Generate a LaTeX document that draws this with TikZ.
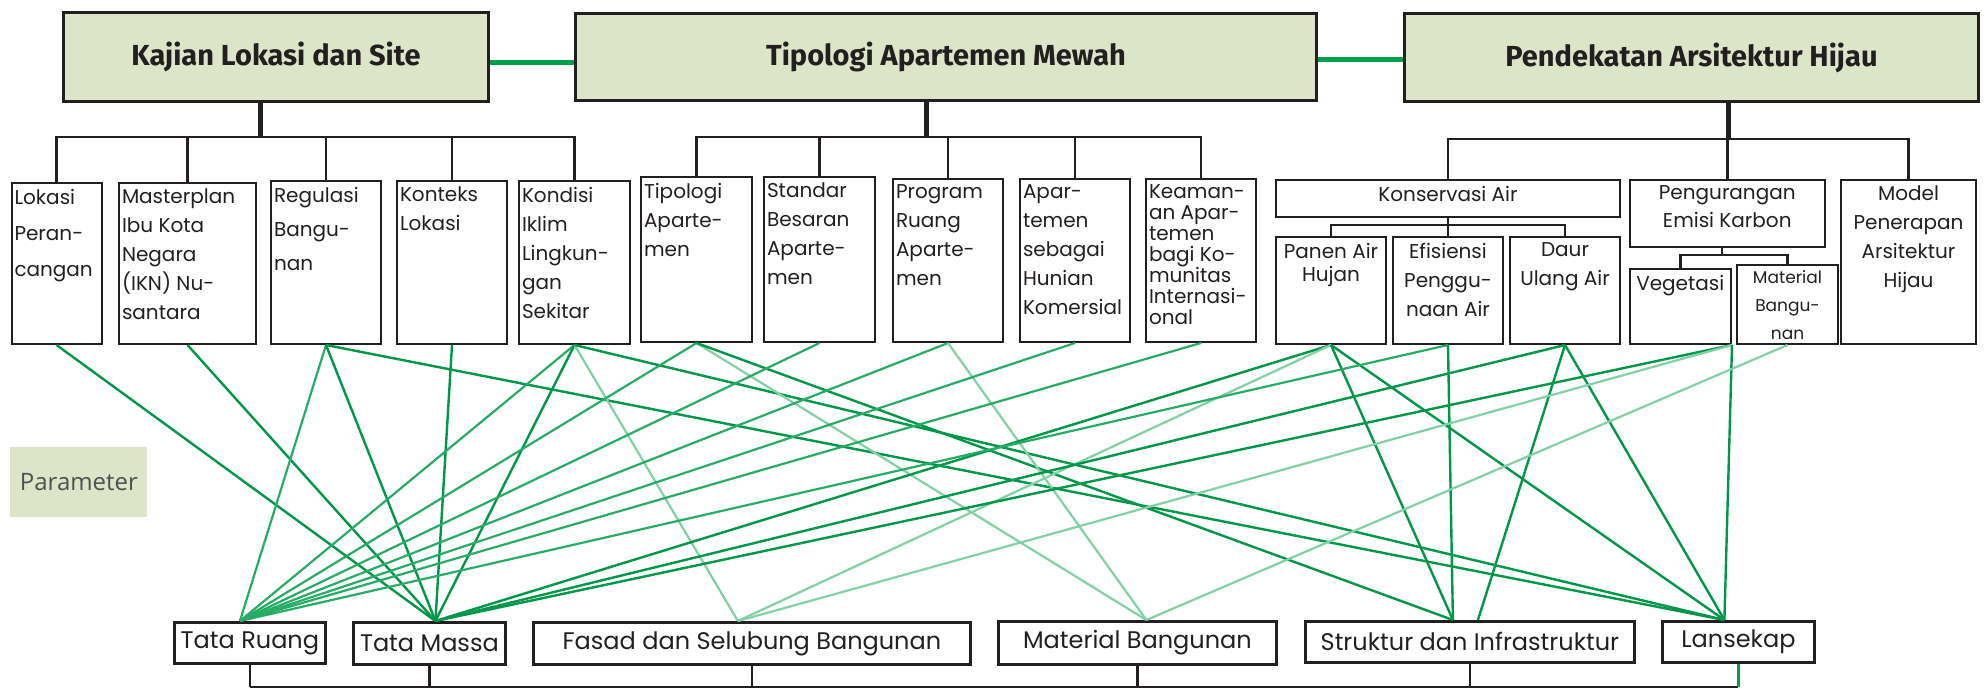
\documentclass[tikz,border=0pt]{standalone}
\usepackage{fontspec}
\setmainfont{Poppins}
\newfontfamily\headfont{Fira Sans}
\newfontfamily\paramfont{Open Sans}
\usetikzlibrary{calc}

\definecolor{hdr}{RGB}{220,229,200}
\definecolor{ink}{RGB}{35,31,32}
\definecolor{gdark}{RGB}{0,152,72}
\definecolor{gmid}{RGB}{38,172,100}
\definecolor{glight}{RGB}{130,208,165}
\definecolor{glink}{RGB}{0,160,75}

% text sits at the top of a fixed size box
\newcommand{\cell}[4][14.5pt]{\parbox[c][\dimexpr#3-6pt\relax][t]{\dimexpr#2-3pt\relax}{\setlength{\baselineskip}{#1}#4}}

\tikzset{
  headbox/.style={draw=ink, fill=hdr, line width=1.5pt, anchor=north west, inner sep=0pt,
    font=\headfont\bfseries\fontsize{14.5}{17}\selectfont, text=ink},
  subbox/.style={draw=ink, line width=1pt, anchor=north west, inner xsep=1.5pt, inner ysep=3pt,
    font=\fontsize{10}{12}\selectfont, text=ink},
  aspek/.style={draw=ink, line width=1.4pt, anchor=north west, inner sep=0pt,
    font=\fontsize{12}{14}\selectfont, text=ink},
  tag/.style={fill=hdr, anchor=north west, inner sep=0pt, text={rgb,255:red,80;green,80;blue,80},
    font=\paramfont\fontsize{12}{14}\selectfont},
  trunk/.style={ink, line width=2.5pt},
  bar/.style={ink, line width=1.4pt},
  subbar/.style={ink, line width=1.25pt},
  mainlink/.style={glink, line width=2.5pt},
  linkdk/.style={gdark, line width=1.2pt},
  linkmd/.style={gmid, line width=1.1pt},
  linklt/.style={glight, line width=1.1pt},
}

\begin{document}
\begin{tikzpicture}[x=0.5pt, y=-0.5pt]
  \useasboundingbox (0,0) rectangle (1986,689);

  % main topics
  \node[headbox, minimum width=212.5pt, minimum height=44.5pt] (kajian) at (62,11) {Kajian Lokasi dan Site};
  \node[headbox, minimum width=370.5pt, minimum height=43.5pt] (tipologi) at (574,12) {Tipologi Apartemen Mewah};
  \node[headbox, minimum width=287pt, minimum height=44pt] (pendekatan) at (1403,12) {Pendekatan Arsitektur Hijau};

  % kajian lokasi
  \node[subbox] (lokasi) at (10.5,182) {\cell[18pt]{45pt}{80.5pt}{\raggedright Lokasi\\Peran-\\cangan}};
  \node[subbox] (master) at (118,182) {\cell{68.5pt}{80.5pt}{\raggedright Masterplan\\Ibu Kota\\Negara\\(IKN) Nu-\\santara}};
  \node[subbox] (regulasi) at (270,180) {\cell[17pt]{55pt}{81.5pt}{\raggedright Regulasi\\Bangu-\\nan}};
  \node[subbox] (konteks) at (396,180) {\cell{55pt}{81.5pt}{\raggedright Konteks\\Lokasi}};
  \node[subbox] (kondisi) at (518,180) {\cell{55.5pt}{81.5pt}{\raggedright Kondisi\\Iklim\\Lingkun-\\gan\\Sekitar}};

  % tipologi
  \node[subbox] (tipapt) at (640,176) {\cell{55.5pt}{82.5pt}{\raggedright Tipologi\\Aparte-\\men}};
  \node[subbox] (standar) at (763,176) {\cell{55.5pt}{82.5pt}{\raggedright Standar\\Besaran\\Aparte-\\men}};
  \node[subbox] (program) at (892,178) {\cell{55pt}{81.5pt}{\raggedright Program\\Ruang\\Aparte-\\men}};
  \node[subbox] (sebagai) at (1019,178) {\cell{55pt}{81.5pt}{\raggedright Apar-\\temen\\sebagai\\Hunian\\Komersial}};
  \node[subbox] (keamanan) at (1145,178) {\cell[10.5pt]{55pt}{81.5pt}{\raggedright Keaman-\\an Apar-\\temen\\bagi Ko-\\munitas\\Internasi-\\onal}};

  % arsitektur hijau
  \node[subbox] (konservasi) at (1275,179) {\cell{172pt}{18.5pt}{\centering Konservasi Air}};
  \node[subbox] (panen) at (1275,236) {\cell[11.5pt]{55pt}{53.5pt}{\centering Panen Air\\Hujan}};
  \node[subbox] (efisiensi) at (1392,236) {\cell{55pt}{53.5pt}{\centering Efisiensi\\Penggu-\\naan Air}};
  \node[subbox] (daur) at (1509,236) {\cell{55pt}{53.5pt}{\centering Daur\\Ulang Air}};
  \node[subbox] (pengurangan) at (1628.5,179) {\cell[14pt]{97.75pt}{33.5pt}{\centering Pengurangan\\Emisi Karbon}};
  \node[subbox] (vegetasi) at (1628.5,268) {\cell{50.75pt}{37.5pt}{\centering Vegetasi}};
  \node[subbox, font=\fontsize{8.5}{10}\selectfont] (matsmall) at (1736,264) {\cell[14pt]{50.5pt}{39.5pt}{\centering Material\\Bangu-\\nan}};
  \node[subbox] (model) at (1840,179) {\cell{67.5pt}{82pt}{\centering Model\\Penerapan\\Arsitektur\\Hijau}};

  % parameter
  \node[tag, minimum width=68.5pt, minimum height=35pt] (parameter) at (10,447) {Parameter};
  \node[aspek, minimum width=75.5pt, minimum height=20.5pt] (ruang) at (173,621) {Tata Ruang};
  \node[aspek, minimum width=76pt, minimum height=21pt] (massa) at (352,621) {Tata Massa};
  \node[aspek, minimum width=218.5pt, minimum height=21pt] (fasad) at (532,621) {Fasad dan Selubung Bangunan};
  \node[aspek, minimum width=139pt, minimum height=21.5pt] (material) at (997,620) {Material Bangunan};
  \node[aspek, minimum width=164.5pt, minimum height=20.5pt] (struktur) at (1304,620) {Struktur dan Infrastruktur};
  \node[aspek, minimum width=76pt, minimum height=20.5pt] (lansekap) at (1661,620) {Lansekap};

  % links between main topics
  \coordinate (kL) at ([yshift=-3pt]kajian.east);
  \coordinate (tL) at ([yshift=-1.5pt]tipologi.east);
  \draw[mainlink] (kL) -- (tipologi.west |- kL);
  \draw[mainlink] (tL) -- (pendekatan.west |- tL);

  % tree
  \coordinate (kj) at (260,137);
  \coordinate (tp) at (926,137);
  \coordinate (pd) at (1728,139);
  \draw[trunk] (kj |- kajian.south) -- (kj);
  \draw[bar] (lokasi.north) |- (kondisi.north |- kj) -- (kondisi.north);
  \foreach \n in {master,regulasi,konteks}
    \draw[bar] (\n.north |- kj) -- (\n.north);
  \draw[trunk] (tp |- tipologi.south) -- (tp);
  \draw[bar] (tipapt.north) |- (keamanan.north |- tp) -- (keamanan.north);
  \foreach \n in {standar,program,sebagai}
    \draw[bar] (\n.north |- tp) -- (\n.north);
  \draw[trunk] (pd |- pendekatan.south) -- (pd);
  \draw[bar] (konservasi.north) |- (model.north |- pd) -- (model.north);
  \draw[bar] (pengurangan.north |- pd) -- (pengurangan.north);

  \coordinate (kv) at (1447,225);
  \draw[subbar] (konservasi.south) -- (konservasi.south |- kv);
  \draw[subbar] (panen.north) |- (daur.north |- kv) -- (daur.north);
  \draw[subbar] (efisiensi.north |- kv) -- (efisiensi.north);
  \coordinate (kp) at (1722,255);
  \draw[subbar] (kp |- pengurangan.south) -- (kp);
  \draw[subbar] (vegetasi.north) |- (matsmall.north |- kp) -- (matsmall.north);

  % ports on the parameters
  \coordinate (ruangIn) at ([xshift=-5pt]ruang.north);
  \coordinate (massaIn) at ([xshift=3pt]massa.north);
  \coordinate (fasadIn) at ([xshift=-7pt]fasad.north);
  \coordinate (matIn) at ([xshift=4.5pt]material.north);
  \coordinate (strukIn) at ([xshift=-8.5pt]struktur.north);
  \coordinate (strukInB) at ([xshift=4pt]struktur.north);
  \coordinate (lansIn) at ([xshift=-7pt]lansekap.north);

  \foreach \a/\b/\s in {
      lokasi.south/massaIn/linkdk, master.south/massaIn/linkdk,
      regulasi.south/ruangIn/linkmd, regulasi.south/massaIn/linkdk, regulasi.south/lansIn/linkdk,
      konteks.south/massaIn/linkdk,
      kondisi.south/ruangIn/linkmd, kondisi.south/massaIn/linkdk,
      kondisi.south/fasadIn/linklt, kondisi.south/lansIn/linkdk,
      tipapt.south/ruangIn/linkmd, tipapt.south/matIn/linklt, tipapt.south/strukIn/linkdk,
      standar.south/ruangIn/linkmd,
      program.south/ruangIn/linkmd, program.south/matIn/linklt,
      sebagai.south/ruangIn/linkmd, keamanan.south/ruangIn/linkmd,
      panen.south/massaIn/linkdk, panen.south/fasadIn/linklt,
      panen.south/strukIn/linkdk, panen.south/lansIn/linkdk,
      efisiensi.south/ruangIn/linkmd, efisiensi.south/strukIn/linkdk,
      daur.south/massaIn/linkdk, daur.south/strukInB/linkdk, daur.south/lansIn/linkdk,
      vegetasi.south east/massaIn/linkdk, vegetasi.south east/fasadIn/linklt,
      vegetasi.south east/lansIn/linkdk,
      matsmall.south/matIn/linklt}
    \draw[\s] (\a) -- (\b);

  % base line
  \coordinate (base) at (0,687);
  \draw[bar, line width=1.1pt] (ruang.south |- base) -- (lansekap.south |- base);
  \foreach \n in {ruang,massa,fasad,material,struktur}
    \draw[bar, line width=1.1pt] (\n.south) -- (\n.south |- base);
  \draw[glink, line width=1.1pt] (lansekap.south) -- (lansekap.south |- base);
\end{tikzpicture}
\end{document}
